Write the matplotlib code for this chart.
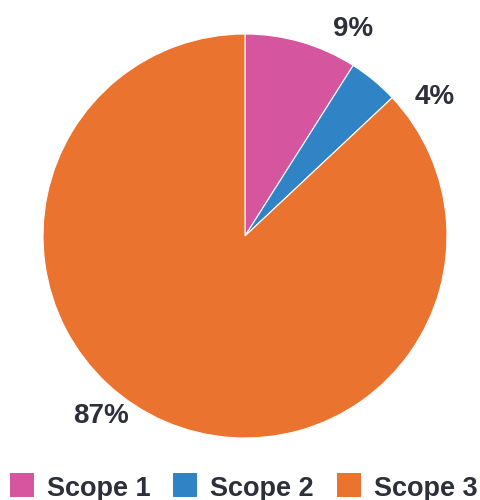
import matplotlib.pyplot as plt
from matplotlib.patches import Rectangle

# Emissions share by scope
labels = ['Scope 1', 'Scope 2', 'Scope 3']
values = [9, 4, 87]
colors = ['#D6559F', '#3084C6', '#EB7330']
text_color = '#2D2F3A'

plt.rcParams['font.family'] = ['Liberation Sans', 'DejaVu Sans']

W, H = 480, 500
fig = plt.figure(figsize=(W / 100, H / 100), dpi=100)
ax = fig.add_axes([43 / W, 62 / H, 404 / W, 404 / H])

wedges, _ = ax.pie(values, colors=colors, startangle=90, counterclock=False,
                   radius=1, wedgeprops=dict(edgecolor='white', linewidth=0.8))
ax.set_xlim(-1, 1)
ax.set_ylim(-1, 1)
ax.set_aspect('equal')

# percentage labels sitting outside the pie (baseline positions)
label_pos = [(0.537, 0.990), (0.941, 0.653), (-0.715, -0.926)]
total = sum(values)
for v, (x, y) in zip(values, label_pos):
    ax.text(x, y, f'{v / total * 100:.0f}%', ha='center', va='baseline',
            fontsize=20, fontweight='bold', color=text_color, clip_on=False)

# legend row along the bottom edge
legend_x = [10, 173, 337]
for lab, c, px in zip(labels, colors, legend_x):
    fig.add_artist(Rectangle((px / W, 3 / H), 24 / W, 24 / H,
                             facecolor=c, edgecolor='none',
                             transform=fig.transFigure))
    fig.text((px + 37) / W, 4 / H, lab, ha='left', va='baseline',
             fontsize=19.5, fontweight='bold', color=text_color)

fig.savefig('out.png', dpi=100)
